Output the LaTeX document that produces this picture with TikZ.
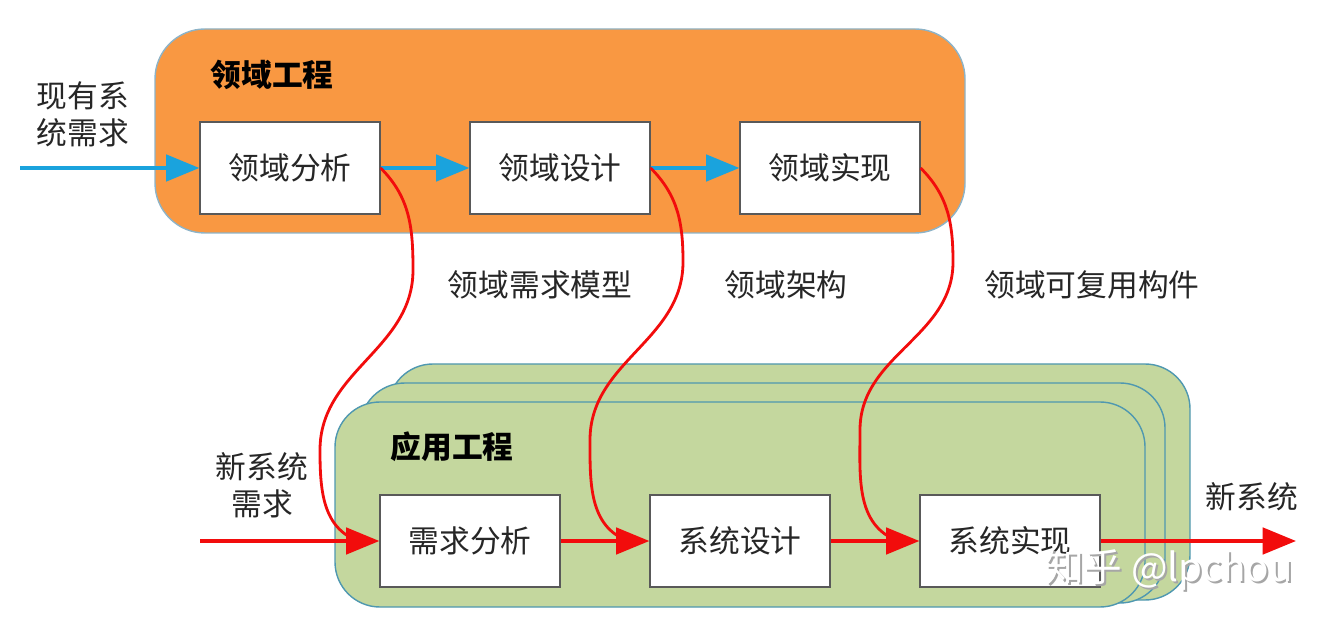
\documentclass[tikz,border=0pt]{standalone}
\usepackage{fontspec}
\setmainfont{Noto Sans CJK SC}
\usetikzlibrary{arrows.meta}
\definecolor{engfill}{HTML}{F99842}
\definecolor{engline}{HTML}{8DB3C7}
\definecolor{appfill}{HTML}{C4D79E}
\definecolor{appline}{HTML}{4F98B0}
\definecolor{bluearrow}{HTML}{1AA3DD}
\definecolor{redarrow}{HTML}{F20C0C}
\definecolor{txt}{HTML}{262626}
\tikzset{
  stepbox/.style={draw=black!65, line width=0.7pt, fill=white, minimum width=3.6cm, minimum height=1.84cm, inner sep=0pt, text=txt},
  lbl/.style={text=txt, inner sep=0pt},
  ttl/.style={text=black, inner sep=0pt, font=\fontsize{17.5}{21}\selectfont\bfseries},
  bluearr/.style={draw=bluearrow, line width=2.2pt, -{Triangle[length=19pt,width=15pt]}},
  redarr/.style={draw=redarrow, line width=2.2pt, -{Triangle[length=19pt,width=15pt]}},
  redcurve/.style={draw=redarrow, line width=1.6pt},
  groupbox/.style={draw=appline, line width=0.8pt, fill=appfill, rounded corners=0.9cm},
}
\begin{document}
\begin{tikzpicture}[x=0.02cm, y=0.02cm, font=\fontsize{17.5}{21}\selectfont]
\useasboundingbox (0,0) rectangle (1334,632);
% domain engineering group
\filldraw[draw=engline, line width=0.8pt, fill=engfill, rounded corners=1cm] (155,399) rectangle (965,603);
\node[ttl] (t1) at (272,557) {领域工程};
% application engineering stacked groups
\path[groupbox] (388,32) rectangle (1190,268);
\path[groupbox] (360,29) rectangle (1165,249);
\path[groupbox] (335,25) rectangle (1145,230);
\node[ttl] (t2) at (452,185) {应用工程};
% top row
\node[stepbox] (da) at (290,464) {领域分析};
\node[stepbox] (dd) at (560,464) {领域设计};
\node[stepbox] (di) at (830,464) {领域实现};
% bottom row
\node[stepbox] (ra) at (470,91) {需求分析};
\node[stepbox] (sd) at (740,91) {系统设计};
\node[stepbox] (si) at (1010,91) {系统实现};
% external labels
\node[lbl, align=center] (in1) at (83,518) {现有系\\统需求};
\node[lbl, align=center] (in2) at (262,147) {新系统\\需求};
\node[lbl] (out) at (1252,135) {新系统};
\node[lbl] (l1) at (540,347) {领域需求模型};
\node[lbl] (l2) at (786,347) {领域架构};
\node[lbl] (l3) at (1092,347) {领域可复用构件};
% free ends
\coordinate (s1) at (20,464);
\coordinate (s2) at (200,91);
\coordinate (e2) at (1296,91);
% blue arrows
\draw[bluearr] (s1) -- (da.west);
\draw[bluearr] (da.east) -- (dd.west);
\draw[bluearr] (dd.east) -- (di.west);
% red curves
\coordinate (c1a) at (413,362);
\coordinate (c1b) at (320,182);
\coordinate (c2a) at (683,370);
\coordinate (c2b) at (590,192);
\coordinate (c3a) at (953,370);
\coordinate (c3b) at (860,202);
\draw[redcurve] (da.east) to[out=-45,in=90] (c1a) to[out=-90,in=90] (c1b) to[out=-90,in=160] ([xshift=-12pt]ra.west);
\draw[redcurve] (dd.east) to[out=-45,in=90] (c2a) to[out=-90,in=90] (c2b) to[out=-90,in=160] ([xshift=-12pt]sd.west);
\draw[redcurve] (di.east) to[out=-45,in=90] (c3a) to[out=-90,in=90] (c3b) to[out=-90,in=160] ([xshift=-12pt]si.west);
% red arrows
\draw[redarr] (s2) -- (ra.west);
\draw[redarr] (ra.east) -- (sd.west);
\draw[redarr] (sd.east) -- (si.west);
\draw[redarr] (si.east) -- (e2);
% watermark
\node[inner sep=0pt, text=black!35, font=\fontsize{22}{26}\selectfont] (wm0) at (1171,60) {知乎\ @lpchou};
\node[inner sep=0pt, text=white, font=\fontsize{22}{26}\selectfont] (wm) at (1169,62) {知乎\ @lpchou};
\end{tikzpicture}
\end{document}
